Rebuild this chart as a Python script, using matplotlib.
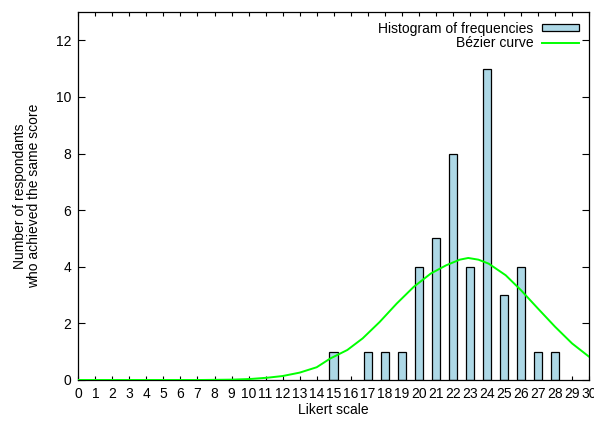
import matplotlib
matplotlib.use('Agg')
import matplotlib.pyplot as plt

plt.rcParams['font.family'] = ['Liberation Sans', 'DejaVu Sans']
plt.rcParams['font.size'] = 10

# Histogram of frequencies (score -> number of respondents)
scores = [15, 17, 18, 19, 20, 21, 22, 23, 24, 25, 26, 27, 28]
counts = [1, 1, 1, 1, 4, 5, 8, 4, 11, 3, 4, 1, 1]

# Bezier curve, points
curve_x = [0, 7.2, 9.0, 10.1, 11.1, 12.0, 13.0, 14.0, 14.8, 15.8, 16.7,
           17.7, 18.7, 19.7, 20.7, 21.6, 22.4, 22.9, 23.5, 24.1, 25.1,
           26.0, 27.0, 28.0, 29.0, 30.0]
curve_y = [0, 0, 0.012, 0.035, 0.08, 0.14, 0.26, 0.45, 0.76, 1.06, 1.47,
           2.05, 2.70, 3.29, 3.76, 4.05, 4.25, 4.31, 4.25, 4.11, 3.70,
           3.17, 2.52, 1.88, 1.29, 0.82]

fig = plt.figure(figsize=(5.94, 4.24), dpi=100)
ax = fig.add_axes([0.1318, 0.1038, 0.860, 0.868])

bars = ax.bar(scores, counts, width=0.5, color='#add8e6', edgecolor='black',
              linewidth=0.9, zorder=2)
line, = ax.plot(curve_x, curve_y, color='#00ff00', linewidth=1.4, zorder=3)

ax.set_xlim(0, 30)
ax.set_ylim(0, 13)
ax.set_xticks(range(0, 31))
ax.set_yticks(range(0, 13, 2))
ax.tick_params(axis='x', direction='in', length=3.2, width=0.8,
               top=True, pad=5)
ax.tick_params(axis='y', direction='in', length=4.7, width=0.8,
               right=True, pad=5)
for s in ax.spines.values():
    s.set_linewidth(0.9)

ax.set_xlabel('Likert scale', labelpad=1.5)
ax.set_ylabel('Number of respondants\nwho achieved the same score',
              labelpad=11, linespacing=0.95)

ax.legend([bars, line], ['Histogram of frequencies', 'B\u00e9zier curve'],
          loc='upper right', markerfirst=False, frameon=False,
          handlelength=2.7, handleheight=0.45, labelspacing=0.05,
          borderaxespad=0.3, handletextpad=0.6)

fig.savefig('out.png', dpi=100)
